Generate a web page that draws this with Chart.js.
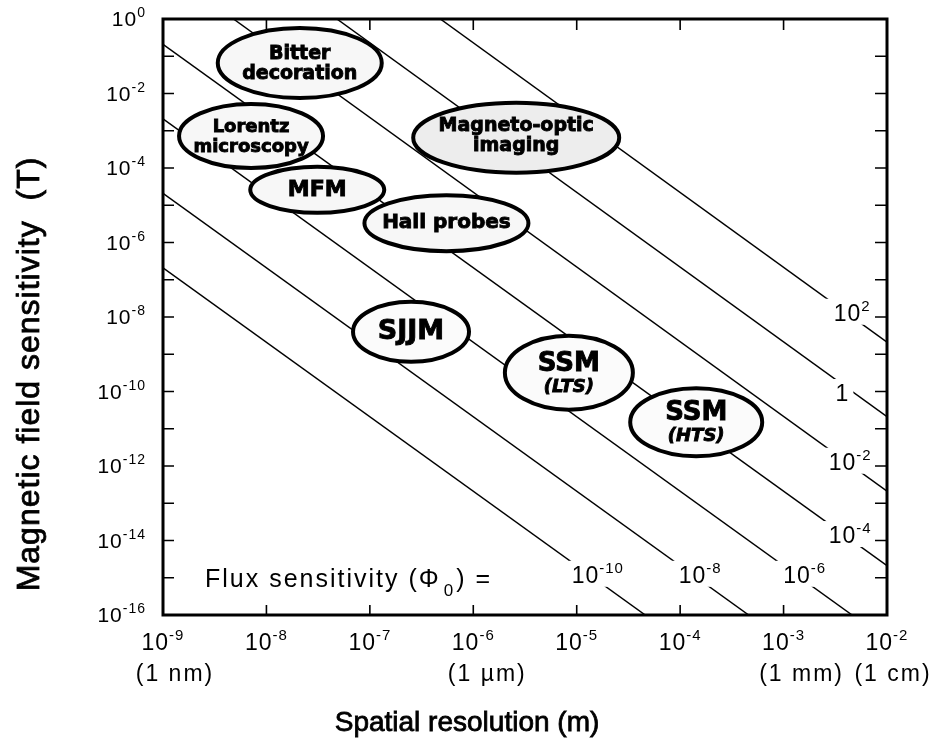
<!DOCTYPE html>
<html>
<head>
<meta charset="utf-8">
<script src="https://cdn.jsdelivr.net/npm/chart.js@4.4.1/dist/chart.umd.min.js"></script>
<style>
  html, body { margin: 0; padding: 0; background: #fff; }
</style>
</head>
<body>
<canvas id="chart" width="937" height="744"></canvas>
<script>
// flux-sensitivity lines, labels are powers of ten of Phi_0
const fluxExp = [-10, -8, -6, -4, -2, 0, 2];
const lineStartR = [1e-9, 1e-9, 1e-9, 1e-9, 4.8e-9, 4.8e-8, 4.8e-7];
const lineStartB = [2.1e-7, 2.1e-5, 2.1e-3, 2.1e-1, 1, 1, 1];
const lineEndR = [4.6e-5, 4.6e-4, 4.6e-3, 1e-2, 1e-2, 1e-2, 1e-2];
const lineEndB = [1e-16, 1e-16, 1e-16, 2.1e-15, 2.1e-13, 2.1e-11, 2.1e-9];
const fluxLabelR = [1.6e-5, 1.56e-4, 1.6e-3, 4.4e-3, 4.4e-3, 3.7e-3, 4.6e-3];
const fluxLabelB = [1.2e-15, 1.2e-15, 1.2e-15, 1.4e-14, 1.3e-12, 9.1e-11, 1.3e-8];

// measurement techniques
const techLine1 = ['Bitter', 'Lorentz', 'MFM', 'Hall probes', 'Magneto-optic', 'SJJM', 'SSM', 'SSM'];
const techLine2 = ['decoration', 'microscopy', '', '', 'imaging', '', '(LTS)', '(HTS)'];
const techR = [2.1e-8, 7.1e-9, 3.1e-8, 5.5e-7, 2.6e-6, 2.5e-7, 8.4e-6, 1.43e-4];
const techB = [6.6e-2, 7.2e-4, 2.6e-5, 3.3e-6, 6.5e-4, 4.0e-9, 3.2e-10, 1.5e-11];

// axis ticks
const xTickExp = [-9, -8, -7, -6, -5, -4, -3, -2];
const yTickExp = [0, -2, -4, -6, -8, -10, -12, -14, -16];
const xUnitLabels = ['(1 nm)', '(1 \u00b5m)', '(1 mm)', '(1 cm)'];
const xUnitAt = [1e-9, 1e-6, 1e-3, 1e-2];

const FONT = '"Liberation Sans", Arial, Helvetica, sans-serif';
const BOLD = '"DejaVu Sans", "Liberation Sans", sans-serif';

// ellipse geometry in pixels: [rx, ry, dy line1, dy line2, size1, size2, fill]
const techStyle = [
  [82, 35, -9, 11, 19, 19, '#f7f7f7'],
  [72, 32, -9, 11, 18, 18, '#f7f7f7'],
  [67, 23, 0, 0, 22, 0, '#f7f7f7'],
  [82, 28, 0, 0, 20, 0, '#f7f7f7'],
  [103, 35, -12, 8, 19, 19, '#ededed'],
  [58, 30, 0, 0, 27, 0, '#fbfbfb'],
  [64, 37, -8, 15, 26, 18, '#fbfbfb'],
  [66, 34, -9, 14, 26, 18, '#fbfbfb'],
];
const unitDx = [12, 14, 18, 6];

function drawPow(ctx, exp, x, y, align, size, supSize, spacing) {
  const base = exp === 0 && supSize < 0 ? '1' : '10';
  const sup = exp === 0 && supSize < 0 ? '' : String(exp);
  ctx.font = size + 'px ' + FONT;
  ctx.letterSpacing = spacing + 'px';
  const wb = ctx.measureText(base).width;
  ctx.font = Math.abs(supSize) + 'px ' + FONT;
  const ws = sup ? ctx.measureText(sup).width : 0;
  const w = wb + ws;
  let x0 = x;
  if (align === 'center') x0 = x - w / 2;
  if (align === 'right') x0 = x - w;
  ctx.textAlign = 'left';
  ctx.textBaseline = 'alphabetic';
  ctx.font = size + 'px ' + FONT;
  ctx.fillText(base, x0, y);
  if (sup) {
    ctx.font = Math.abs(supSize) + 'px ' + FONT;
    ctx.fillText(sup, x0 + wb, y - size * 0.42);
  }
  ctx.letterSpacing = '0px';
  return w;
}

const decorations = {
  id: 'decorations',
  afterDatasetsDraw(chart) {
    const ctx = chart.ctx;
    const xs = chart.scales.x, ys = chart.scales.y;
    const a = chart.chartArea;
    ctx.save();
    ctx.fillStyle = '#000';
    ctx.strokeStyle = '#000';

    // flux labels with white backing to break the lines
    fluxExp.forEach((e, i) => {
      const px = xs.getPixelForValue(fluxLabelR[i]);
      const py = ys.getPixelForValue(fluxLabelB[i]);
      const w = e === 0 ? 14 : 50;
      ctx.fillStyle = '#fff';
      ctx.fillRect(px - w / 2 - 4, py - 14, w + 8, 26);
      ctx.fillStyle = '#000';
      drawPow(ctx, e, px, py + 8, 'center', 23, e === 0 ? -15 : 15, 1);
    });

    // technique ellipses
    techLine1.forEach((t, i) => {
      const [rx, ry, d1, d2, s1, s2, fill] = techStyle[i];
      const cx = xs.getPixelForValue(techR[i]);
      const cy = ys.getPixelForValue(techB[i]);
      ctx.beginPath();
      ctx.ellipse(cx, cy, rx, ry, 0, 0, Math.PI * 2);
      ctx.fillStyle = fill;
      ctx.fill();
      ctx.lineWidth = 4;
      ctx.strokeStyle = '#000';
      ctx.stroke();
      ctx.fillStyle = '#000';
      ctx.lineWidth = 0.9;
      ctx.textAlign = 'center';
      ctx.textBaseline = 'middle';
      ctx.font = 'bold ' + s1 + 'px ' + BOLD;
      ctx.fillText(t, cx, cy + d1);
      ctx.strokeText(t, cx, cy + d1);
      if (techLine2[i]) {
        const italic = techLine2[i].startsWith('(');
        ctx.font = (italic ? 'italic ' : '') + 'bold ' + s2 + 'px ' + BOLD;
        ctx.fillText(techLine2[i], cx, cy + d2);
        ctx.strokeText(techLine2[i], cx, cy + d2);
      }
    });

    // frame
    ctx.lineWidth = 3;
    ctx.strokeStyle = '#000';
    ctx.strokeRect(a.left, a.top, a.right - a.left, a.bottom - a.top);

    // inward ticks every decade on all sides
    ctx.lineWidth = 1.6;
    ctx.beginPath();
    for (let e = -8; e <= -3; e++) {
      const px = xs.getPixelForValue(Math.pow(10, e));
      ctx.moveTo(px, a.bottom); ctx.lineTo(px, a.bottom - 10);
      ctx.moveTo(px, a.top); ctx.lineTo(px, a.top + 11);
    }
    for (let e = -15; e <= -1; e++) {
      const py = ys.getPixelForValue(Math.pow(10, e));
      ctx.moveTo(a.left, py); ctx.lineTo(a.left + 11, py);
      ctx.moveTo(a.right, py); ctx.lineTo(a.right - 12, py);
    }
    ctx.stroke();

    // y tick labels
    yTickExp.forEach(e => {
      const py = ys.getPixelForValue(Math.pow(10, e));
      drawPow(ctx, e, a.left - 17, py + 7, 'right', 21, 14, 1);
    });
    // x tick labels
    xTickExp.forEach(e => {
      const px = xs.getPixelForValue(Math.pow(10, e));
      drawPow(ctx, e, px, 650, 'center', 23, 15, 1);
    });
    ctx.font = '23px ' + FONT;
    ctx.letterSpacing = '2px';
    ctx.textAlign = 'center';
    xUnitLabels.forEach((u, i) => {
      ctx.fillText(u, xs.getPixelForValue(xUnitAt[i]) + unitDx[i], 681);
    });

    // flux sensitivity caption
    ctx.textAlign = 'left';
    ctx.font = '25px ' + FONT;
    ctx.letterSpacing = '2px';
    const cap = 'Flux sensitivity (\u03a6';
    ctx.fillText(cap, 205, 587);
    let cx = 205 + ctx.measureText(cap).width + 3;
    ctx.font = '17px ' + FONT;
    ctx.fillText('0', cx, 596);
    cx += ctx.measureText('0').width + 1;
    ctx.font = '25px ' + FONT;
    ctx.fillText(') =', cx, 587);

    // axis titles
    ctx.letterSpacing = '0px';
    ctx.font = '28px ' + FONT;
    ctx.lineWidth = 0.8;
    ctx.textAlign = 'center';
    ctx.fillText('Spatial resolution (m)', 467, 731);
    ctx.strokeText('Spatial resolution (m)', 467, 731);
    ctx.letterSpacing = '1px';
    ctx.translate(39, 374);
    ctx.rotate(-Math.PI / 2);
    ctx.font = '32px ' + FONT;
    ctx.fillText('Magnetic field sensitivity  (T)', 0, 0);
    ctx.strokeText('Magnetic field sensitivity  (T)', 0, 0);
    ctx.restore();
  }
};

new Chart(document.getElementById('chart'), {
  type: 'scatter',
  data: {
    datasets: fluxExp.map((e, i) => ({
      label: 'flux ' + e,
      data: [{ x: lineStartR[i], y: lineStartB[i] }, { x: lineEndR[i], y: lineEndB[i] }],
      showLine: true,
      borderColor: '#000',
      borderWidth: 1.5,
      pointRadius: 0,
    })),
  },
  options: {
    responsive: false,
    animation: false,
    layout: { padding: { left: 163, right: 50, top: 19, bottom: 129 } },
    plugins: { legend: { display: false }, tooltip: { enabled: false } },
    scales: {
      x: { type: 'logarithmic', min: 1e-9, max: 1e-2, display: false },
      y: { type: 'logarithmic', min: 1e-16, max: 1, display: false },
    },
  },
  plugins: [decorations],
});
</script>
</body>
</html>
